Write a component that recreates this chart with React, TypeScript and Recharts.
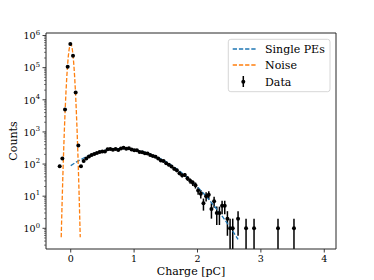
import React from 'react';
import { ComposedChart, Scatter, Line, XAxis, YAxis, ErrorBar } from 'recharts';

const binCenters = [-0.174,-0.132,-0.09,-0.048,-0.006,0.036,0.078,0.12,0.162,0.204,0.246,0.288,0.33,0.372,0.414,0.456,0.498,0.54,0.582,0.624,0.666,0.708,0.75,0.792,0.834,0.876,0.918,0.96,1.002,1.044,1.086,1.128,1.17,1.212,1.254,1.296,1.338,1.38,1.422,1.464,1.506,1.548,1.59,1.632,1.674,1.716,1.758,1.8,1.842,1.884,1.926,1.968,2.01,2.052,2.094,2.136,2.178,2.22,2.262,2.304,2.346,2.388,2.43,2.472,2.514,2.556,2.64,2.766,2.892,3.27,3.522];
const counts = [85,150,5000,106000,550000,236000,17000,380,85,124,150,172,190,205,220,238,245,248,290,292,280,295,272,305,322,300,308,282,268,270,238,232,215,212,190,178,170,148,128,125,105,95,84,72,64,52,45,46,36,30,26,22,15,12,6,10,11,4,7,3,3,5,5,2,1,1,2,1,1,1,1];

const noiseX = [-0.15,-0.1375,-0.125,-0.1125,-0.1,-0.0875,-0.075,-0.0625,-0.05,-0.0375,-0.025,-0.0125,0,0.0125,0.025,0.0375,0.05,0.0625,0.075,0.0875,0.1,0.1125,0.125,0.1375,0.15];
const noiseY = [0.53,4.9,36.6,228,1170,4940,17300,49700,118000,232000,374000,499000,550000,499000,374000,232000,118000,49700,17300,4940,1170,228,36.6,4.9,0.53];

const speX = [0,0.12,0.24,0.36,0.48,0.6,0.72,0.84,0.96,1.08,1.2,1.32,1.44,1.56,1.68,1.8,1.92,2.04,2.16,2.28,2.4,2.52,2.64];
const speY = [89.1,125.4,166.9,210.2,250.5,282.4,301.3,304.1,290.4,262.3,224.2,181.3,138.7,100.4,68.8,44.6,27.3,15.9,8.7,4.52,2.22,1.03,0.454];

const xTicks = [0, 1, 2, 3, 4];
const yMinorMult = [2, 3, 4, 5, 6, 7, 8, 9];

const Y_MIN = 0.227;
const Y_MAX = 1.2e6;
const X_MIN = -0.39;
const X_MAX = 4.185;

const dataPts = binCenters.map((x, i) => {
  const n = counts[i];
  const e = Math.sqrt(n);
  return { x, y: n, err: [Math.min(e, n - Y_MIN), e] };
});
const noisePts = noiseX.map((x, i) => ({ x, y: noiseY[i] }));
const spePts = speX.map((x, i) => ({ x, y: speY[i] }));

const yTicks: number[] = [];
[0.1, 1, 10, 100, 1000, 10000, 100000, 1000000].forEach((d) => {
  yTicks.push(d);
  yMinorMult.forEach((m) => yTicks.push(d * m));
});
const yTicksIn = yTicks.filter((v) => v >= Y_MIN && v <= Y_MAX);

const FONT = '"DejaVu Serif", serif';
const AX = '#262626';

const XTick = (props: any) => {
  const { x, y, payload } = props;
  return (
    <g>
      <line x1={x} x2={x} y1={y} y2={y + 3.5} stroke={AX} strokeWidth={0.9} />
      <text x={x} y={y + 13} textAnchor="middle" fontFamily={FONT} fontSize={9.5} fill="#000">
        {payload.value}
      </text>
    </g>
  );
};

const YTick = (props: any) => {
  const { x, y, payload } = props;
  const v = payload.value;
  const exp = Math.round(Math.log10(v));
  const isMajor = Math.abs(Math.log10(v) - exp) < 1e-6;
  if (!isMajor) {
    return <line x1={x - 2} x2={x} y1={y} y2={y} stroke={AX} strokeWidth={0.6} />;
  }
  return (
    <g>
      <line x1={x - 3.5} x2={x} y1={y} y2={y} stroke={AX} strokeWidth={0.9} />
      <text x={x - 6} y={y + 3.8} textAnchor="end" fontFamily={FONT} fontSize={9.5} fill="#000">
        <tspan>10</tspan>
        <tspan dy={-4.5} fontSize={6.8}>{exp}</tspan>
      </text>
    </g>
  );
};

const Dot = (props: any) => {
  const { cx, cy } = props;
  if (cx == null || cy == null) return null;
  return <circle cx={cx} cy={cy} r={2} fill="#000" />;
};

export default function App() {
  const W = 366;
  const H = 272;
  const PL = 38, PR = 328, PT = 25, PB = 241;
  return (
    <div style={{ position: 'relative', width: W, height: H }}>
      <ComposedChart width={W} height={H} margin={{ top: PT, right: W - PR, bottom: 0, left: 0 }}>
        <XAxis
          dataKey="x"
          type="number"
          domain={[X_MIN, X_MAX]}
          ticks={xTicks}
          allowDataOverflow
          height={H - PB}
          tickSize={0}
          tickMargin={0}
          tick={<XTick />}
          axisLine={{ stroke: AX, strokeWidth: 1 }}
          tickLine={false}
          interval={0}
        />
        <YAxis
          type="number"
          scale="log"
          domain={[Y_MIN, Y_MAX]}
          allowDataOverflow
          ticks={yTicksIn}
          width={PL}
          tickSize={0}
          tickMargin={0}
          tick={<YTick />}
          tickLine={false}
          interval={0}
          axisLine={{ stroke: AX, strokeWidth: 1 }}
        />
        <Scatter data={dataPts} dataKey="y" shape={<Dot />} isAnimationActive={false}>
          <ErrorBar dataKey="err" direction="y" width={0} stroke="#000" strokeWidth={1.5} isAnimationActive={false} />
        </Scatter>
        <Line
          data={spePts}
          dataKey="y"
          type="monotone"
          stroke="#1f77b4"
          strokeWidth={1.3}
          strokeDasharray="4.3 1.9"
          dot={false}
          activeDot={false}
          isAnimationActive={false}
        />
        <Line
          data={noisePts}
          dataKey="y"
          type="linear"
          stroke="#ff7f0e"
          strokeWidth={1.3}
          strokeDasharray="4.3 1.9"
          dot={false}
          activeDot={false}
          isAnimationActive={false}
        />
      </ComposedChart>
      <svg
        width={W}
        height={H}
        style={{ position: 'absolute', left: 0, top: 0, pointerEvents: 'none' }}
      >
        <line x1={PL} x2={PR} y1={PT} y2={PT} stroke={AX} strokeWidth={1} />
        <line x1={PR} x2={PR} y1={PT} y2={PB} stroke={AX} strokeWidth={1} />
        <text
          x={5.5}
          y={133}
          transform="rotate(-90 5.5 133)"
          textAnchor="middle"
          dominantBaseline="central"
          fontFamily={FONT}
          fontSize={11}
          fill="#000"
        >
          Counts
        </text>
        <text
          x={183}
          y={263}
          textAnchor="middle"
          dominantBaseline="central"
          fontFamily={FONT}
          fontSize={11}
          fill="#000"
        >
          Charge [pC]
        </text>
        <rect x={220.3} y={31.3} width={101.7} height={52.4} rx={2.5} fill="#fff" fillOpacity={0.8} stroke="#cccccc" strokeWidth={0.8} />
        <line x1={224.7} x2={247.7} y1={41} y2={41} stroke="#1f77b4" strokeWidth={1.3} strokeDasharray="4.3 1.9" />
        <line x1={224.7} x2={247.7} y1={57} y2={57} stroke="#ff7f0e" strokeWidth={1.3} strokeDasharray="4.3 1.9" />
        <line x1={235.3} x2={235.3} y1={68} y2={79} stroke="#000" strokeWidth={1.5} />
        <circle cx={235.3} cy={73.7} r={2} fill="#000" />
        <text x={257} y={45} fontFamily={FONT} fontSize={11} fill="#000">Single PEs</text>
        <text x={257} y={61} fontFamily={FONT} fontSize={11} fill="#000">Noise</text>
        <text x={257} y={77.7} fontFamily={FONT} fontSize={11} fill="#000">Data</text>
      </svg>
    </div>
  );
}
